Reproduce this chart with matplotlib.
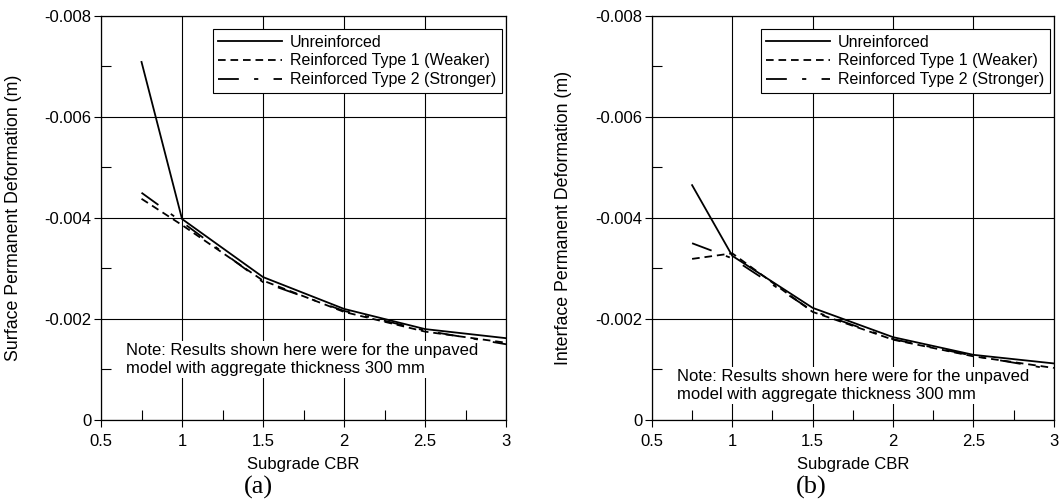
import matplotlib
matplotlib.use("Agg")
import matplotlib.pyplot as plt

plt.rcParams['font.family'] = ['Liberation Sans', 'DejaVu Sans']
plt.rcParams['axes.unicode_minus'] = False
plt.rcParams['lines.scale_dashes'] = False

cbr = [0.75, 1, 1.5, 2, 2.5, 3]

# (a) surface permanent deformation (m)
surf_unreinf = [-0.00709, -0.00398, -0.00283, -0.00220, -0.00180, -0.00162]
surf_type1 = [-0.00438, -0.00386, -0.00276, -0.00214, -0.00175, -0.00153]
surf_type2 = [-0.00450, -0.00392, -0.00273, -0.00216, -0.00177, -0.00150]

# (b) interface permanent deformation (m)
intf_unreinf = [-0.00465, -0.00325, -0.00222, -0.00164, -0.00129, -0.00112]
intf_type1 = [-0.00319, -0.00330, -0.00214, -0.00159, -0.00126, -0.00103]
intf_type2 = [-0.00350, -0.00320, -0.00216, -0.00160, -0.00127, -0.00100]

labels = ['Unreinforced', 'Reinforced Type 1 (Weaker)', 'Reinforced Type 2 (Stronger)']
xticks = [0.5, 1, 1.5, 2, 2.5, 3]
yticks = [-0.008, -0.006, -0.004, -0.002, 0]
note = 'Note: Results shown here were for the unpaved\nmodel with aggregate thickness 300 mm'

fig = plt.figure(figsize=(10.6, 5.01), dpi=100)
ax1 = fig.add_axes([0.0953, 0.1617, 0.3821, 0.8064])
ax2 = fig.add_axes([0.6150, 0.1617, 0.3792, 0.8064])


def draw(ax, ys, ylabel, note_y):
    ax.plot(cbr, ys[0], color='black', lw=1.3, zorder=4, label=labels[0])
    ax.plot(cbr, ys[1], color='black', lw=1.3, zorder=4, dashes=(5.5, 3.5), label=labels[1])
    ax.plot(cbr, ys[2], color='black', lw=1.3, zorder=4, dashes=(15, 11, 3, 11), label=labels[2])
    ax.set_xlim(0.5, 3)
    ax.set_ylim(0, -0.008)
    ax.set_xticks(xticks)
    ax.set_xticklabels(['%g' % v for v in xticks])
    ax.set_xticks([0.75, 1.25, 1.75, 2.25, 2.75], minor=True)
    ax.set_yticks(yticks)
    ax.set_yticklabels(['%g' % v for v in yticks])
    ax.tick_params(which='major', direction='out', length=5, width=0.8,
                   labelsize=12, colors='black')
    ax.set_yticks([-0.007, -0.005, -0.003, -0.001], minor=True)
    ax.tick_params(axis='y', which='major', pad=2)
    ax.tick_params(axis='x', which='major', pad=5)
    ax.tick_params(which='minor', direction='in', length=7, width=0.8)
    ax.grid(True, which='major', color='black', lw=0.8)
    for s in ax.spines.values():
        s.set_linewidth(0.9)
    ax.set_xlabel('Subgrade CBR', fontsize=12, labelpad=6)
    ax.set_ylabel(ylabel, fontsize=12.8, labelpad=8)
    ax.text(0.062, note_y, note, transform=ax.transAxes, fontsize=12,
            va='top', ha='left', linespacing=1.2, zorder=3,
            bbox=dict(facecolor='white', edgecolor='none', pad=1.5))
    leg = ax.legend(loc='upper right', bbox_to_anchor=(0.99, 0.968), borderaxespad=0,
                    fontsize=11.5, handlelength=4.0, handletextpad=0.5,
                    borderpad=0.35, labelspacing=0.25, fancybox=False,
                    framealpha=1, edgecolor='black')
    leg.get_frame().set_linewidth(0.8)
    leg.set_zorder(5)


draw(ax1, [surf_unreinf, surf_type1, surf_type2], 'Surface Permanent Deformation (m)', 0.19)
draw(ax2, [intf_unreinf, intf_type1, intf_type2], 'Interface Permanent Deformation (m)', 0.125)
ax1.yaxis.set_label_coords(-0.195, 0.5)
ax2.yaxis.set_label_coords(-0.2, 0.5)

fig.text(258 / 1060, 1 - 487 / 501, '(a)', family='Liberation Serif', fontsize=19,
         ha='center', va='center')
fig.text(811 / 1060, 1 - 487 / 501, '(b)', family='Liberation Serif', fontsize=19,
         ha='center', va='center')

fig.savefig('out.png', dpi=100)
